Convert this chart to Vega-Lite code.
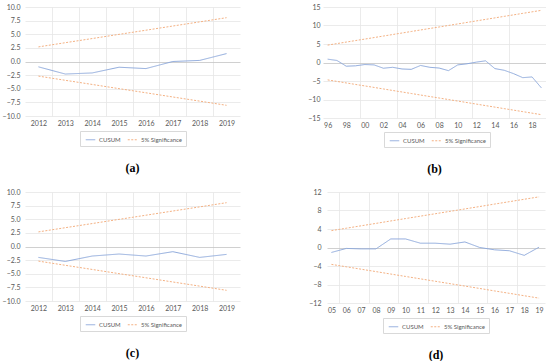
{
  "$schema": "https://vega.github.io/schema/vega-lite/v6.json",
  "background": "white",
  "padding": {"left": 2, "top": 3, "right": 0, "bottom": 0},
  "datasets": {
    "a": [
      {"t":2012,"s":"CUSUM","b":"c","v":-0.98},{"t":2013,"s":"CUSUM","b":"c","v":-2.3},{"t":2014,"s":"CUSUM","b":"c","v":-2.1},{"t":2015,"s":"CUSUM","b":"c","v":-1.05},{"t":2016,"s":"CUSUM","b":"c","v":-1.3},{"t":2017,"s":"CUSUM","b":"c","v":0.0},{"t":2018,"s":"CUSUM","b":"c","v":0.2},{"t":2019,"s":"CUSUM","b":"c","v":1.45},
      {"t":2012,"s":"5% Significance","b":"u","v":2.68},{"t":2013,"s":"5% Significance","b":"u","v":3.45},{"t":2014,"s":"5% Significance","b":"u","v":4.21},{"t":2015,"s":"5% Significance","b":"u","v":4.98},{"t":2016,"s":"5% Significance","b":"u","v":5.74},{"t":2017,"s":"5% Significance","b":"u","v":6.51},{"t":2018,"s":"5% Significance","b":"u","v":7.27},{"t":2019,"s":"5% Significance","b":"u","v":8.04},
      {"t":2012,"s":"5% Significance","b":"l","v":-2.68},{"t":2013,"s":"5% Significance","b":"l","v":-3.45},{"t":2014,"s":"5% Significance","b":"l","v":-4.21},{"t":2015,"s":"5% Significance","b":"l","v":-4.98},{"t":2016,"s":"5% Significance","b":"l","v":-5.74},{"t":2017,"s":"5% Significance","b":"l","v":-6.51},{"t":2018,"s":"5% Significance","b":"l","v":-7.27},{"t":2019,"s":"5% Significance","b":"l","v":-8.04}
    ],
    "c": [
      {"t":2012,"s":"CUSUM","b":"c","v":-2.0},{"t":2013,"s":"CUSUM","b":"c","v":-2.74},{"t":2014,"s":"CUSUM","b":"c","v":-1.75},{"t":2015,"s":"CUSUM","b":"c","v":-1.38},{"t":2016,"s":"CUSUM","b":"c","v":-1.75},{"t":2017,"s":"CUSUM","b":"c","v":-0.95},{"t":2018,"s":"CUSUM","b":"c","v":-2.0},{"t":2019,"s":"CUSUM","b":"c","v":-1.45},
      {"t":2012,"s":"5% Significance","b":"u","v":2.68},{"t":2013,"s":"5% Significance","b":"u","v":3.45},{"t":2014,"s":"5% Significance","b":"u","v":4.21},{"t":2015,"s":"5% Significance","b":"u","v":4.98},{"t":2016,"s":"5% Significance","b":"u","v":5.74},{"t":2017,"s":"5% Significance","b":"u","v":6.51},{"t":2018,"s":"5% Significance","b":"u","v":7.27},{"t":2019,"s":"5% Significance","b":"u","v":8.04},
      {"t":2012,"s":"5% Significance","b":"l","v":-2.68},{"t":2013,"s":"5% Significance","b":"l","v":-3.45},{"t":2014,"s":"5% Significance","b":"l","v":-4.21},{"t":2015,"s":"5% Significance","b":"l","v":-4.98},{"t":2016,"s":"5% Significance","b":"l","v":-5.74},{"t":2017,"s":"5% Significance","b":"l","v":-6.51},{"t":2018,"s":"5% Significance","b":"l","v":-7.27},{"t":2019,"s":"5% Significance","b":"l","v":-8.04}
    ],
    "b": [
      {"t":1996,"s":"CUSUM","b":"c","v":0.9},{"t":1997,"s":"CUSUM","b":"c","v":0.55},{"t":1998,"s":"CUSUM","b":"c","v":-1.0},{"t":1999,"s":"CUSUM","b":"c","v":-0.9},{"t":2000,"s":"CUSUM","b":"c","v":-0.55},{"t":2001,"s":"CUSUM","b":"c","v":-0.65},{"t":2002,"s":"CUSUM","b":"c","v":-1.55},{"t":2003,"s":"CUSUM","b":"c","v":-1.3},{"t":2004,"s":"CUSUM","b":"c","v":-1.75},{"t":2005,"s":"CUSUM","b":"c","v":-1.85},{"t":2006,"s":"CUSUM","b":"c","v":-0.8},{"t":2007,"s":"CUSUM","b":"c","v":-1.3},{"t":2008,"s":"CUSUM","b":"c","v":-1.5},{"t":2009,"s":"CUSUM","b":"c","v":-2.2},{"t":2010,"s":"CUSUM","b":"c","v":-0.65},{"t":2011,"s":"CUSUM","b":"c","v":-0.35},{"t":2012,"s":"CUSUM","b":"c","v":0.1},{"t":2013,"s":"CUSUM","b":"c","v":0.45},{"t":2014,"s":"CUSUM","b":"c","v":-1.65},{"t":2015,"s":"CUSUM","b":"c","v":-2.1},{"t":2016,"s":"CUSUM","b":"c","v":-3.0},{"t":2017,"s":"CUSUM","b":"c","v":-4.1},{"t":2018,"s":"CUSUM","b":"c","v":-3.9},{"t":2019,"s":"CUSUM","b":"c","v":-6.85},
      {"t":1996,"s":"5% Significance","b":"u","v":4.70},{"t":1997,"s":"5% Significance","b":"u","v":5.11},{"t":1998,"s":"5% Significance","b":"u","v":5.52},{"t":1999,"s":"5% Significance","b":"u","v":5.93},{"t":2000,"s":"5% Significance","b":"u","v":6.33},{"t":2001,"s":"5% Significance","b":"u","v":6.74},{"t":2002,"s":"5% Significance","b":"u","v":7.15},{"t":2003,"s":"5% Significance","b":"u","v":7.56},{"t":2004,"s":"5% Significance","b":"u","v":7.97},{"t":2005,"s":"5% Significance","b":"u","v":8.38},{"t":2006,"s":"5% Significance","b":"u","v":8.79},{"t":2007,"s":"5% Significance","b":"u","v":9.20},{"t":2008,"s":"5% Significance","b":"u","v":9.60},{"t":2009,"s":"5% Significance","b":"u","v":10.01},{"t":2010,"s":"5% Significance","b":"u","v":10.42},{"t":2011,"s":"5% Significance","b":"u","v":10.83},{"t":2012,"s":"5% Significance","b":"u","v":11.24},{"t":2013,"s":"5% Significance","b":"u","v":11.65},{"t":2014,"s":"5% Significance","b":"u","v":12.06},{"t":2015,"s":"5% Significance","b":"u","v":12.47},{"t":2016,"s":"5% Significance","b":"u","v":12.87},{"t":2017,"s":"5% Significance","b":"u","v":13.28},{"t":2018,"s":"5% Significance","b":"u","v":13.69},{"t":2019,"s":"5% Significance","b":"u","v":14.10},
      {"t":1996,"s":"5% Significance","b":"l","v":-4.70},{"t":1997,"s":"5% Significance","b":"l","v":-5.11},{"t":1998,"s":"5% Significance","b":"l","v":-5.52},{"t":1999,"s":"5% Significance","b":"l","v":-5.93},{"t":2000,"s":"5% Significance","b":"l","v":-6.33},{"t":2001,"s":"5% Significance","b":"l","v":-6.74},{"t":2002,"s":"5% Significance","b":"l","v":-7.15},{"t":2003,"s":"5% Significance","b":"l","v":-7.56},{"t":2004,"s":"5% Significance","b":"l","v":-7.97},{"t":2005,"s":"5% Significance","b":"l","v":-8.38},{"t":2006,"s":"5% Significance","b":"l","v":-8.79},{"t":2007,"s":"5% Significance","b":"l","v":-9.20},{"t":2008,"s":"5% Significance","b":"l","v":-9.60},{"t":2009,"s":"5% Significance","b":"l","v":-10.01},{"t":2010,"s":"5% Significance","b":"l","v":-10.42},{"t":2011,"s":"5% Significance","b":"l","v":-10.83},{"t":2012,"s":"5% Significance","b":"l","v":-11.24},{"t":2013,"s":"5% Significance","b":"l","v":-11.65},{"t":2014,"s":"5% Significance","b":"l","v":-12.06},{"t":2015,"s":"5% Significance","b":"l","v":-12.47},{"t":2016,"s":"5% Significance","b":"l","v":-12.87},{"t":2017,"s":"5% Significance","b":"l","v":-13.28},{"t":2018,"s":"5% Significance","b":"l","v":-13.69},{"t":2019,"s":"5% Significance","b":"l","v":-14.10}
    ],
    "d": [
      {"t":2005,"s":"CUSUM","b":"c","v":-1.07},{"t":2006,"s":"CUSUM","b":"c","v":-0.2},{"t":2007,"s":"CUSUM","b":"c","v":-0.3},{"t":2008,"s":"CUSUM","b":"c","v":-0.3},{"t":2009,"s":"CUSUM","b":"c","v":1.85},{"t":2010,"s":"CUSUM","b":"c","v":1.85},{"t":2011,"s":"CUSUM","b":"c","v":0.93},{"t":2012,"s":"CUSUM","b":"c","v":0.93},{"t":2013,"s":"CUSUM","b":"c","v":0.72},{"t":2014,"s":"CUSUM","b":"c","v":1.2},{"t":2015,"s":"CUSUM","b":"c","v":0.0},{"t":2016,"s":"CUSUM","b":"c","v":-0.5},{"t":2017,"s":"CUSUM","b":"c","v":-0.7},{"t":2018,"s":"CUSUM","b":"c","v":-1.7},{"t":2019,"s":"CUSUM","b":"c","v":0.07},
      {"t":2005,"s":"5% Significance","b":"u","v":3.65},{"t":2006,"s":"5% Significance","b":"u","v":4.17},{"t":2007,"s":"5% Significance","b":"u","v":4.69},{"t":2008,"s":"5% Significance","b":"u","v":5.21},{"t":2009,"s":"5% Significance","b":"u","v":5.74},{"t":2010,"s":"5% Significance","b":"u","v":6.26},{"t":2011,"s":"5% Significance","b":"u","v":6.78},{"t":2012,"s":"5% Significance","b":"u","v":7.30},{"t":2013,"s":"5% Significance","b":"u","v":7.82},{"t":2014,"s":"5% Significance","b":"u","v":8.34},{"t":2015,"s":"5% Significance","b":"u","v":8.86},{"t":2016,"s":"5% Significance","b":"u","v":9.39},{"t":2017,"s":"5% Significance","b":"u","v":9.91},{"t":2018,"s":"5% Significance","b":"u","v":10.43},{"t":2019,"s":"5% Significance","b":"u","v":10.95},
      {"t":2005,"s":"5% Significance","b":"l","v":-3.65},{"t":2006,"s":"5% Significance","b":"l","v":-4.17},{"t":2007,"s":"5% Significance","b":"l","v":-4.69},{"t":2008,"s":"5% Significance","b":"l","v":-5.21},{"t":2009,"s":"5% Significance","b":"l","v":-5.74},{"t":2010,"s":"5% Significance","b":"l","v":-6.26},{"t":2011,"s":"5% Significance","b":"l","v":-6.78},{"t":2012,"s":"5% Significance","b":"l","v":-7.30},{"t":2013,"s":"5% Significance","b":"l","v":-7.82},{"t":2014,"s":"5% Significance","b":"l","v":-8.34},{"t":2015,"s":"5% Significance","b":"l","v":-8.86},{"t":2016,"s":"5% Significance","b":"l","v":-9.39},{"t":2017,"s":"5% Significance","b":"l","v":-9.91},{"t":2018,"s":"5% Significance","b":"l","v":-10.43},{"t":2019,"s":"5% Significance","b":"l","v":-10.95}
    ]
  },
  "spacing": 13,
  "resolve": {"scale": {"color": "independent", "strokeDash": "independent"}, "legend": {"color": "independent", "strokeDash": "independent"}},
  "vconcat": [
    {
      "spacing": 63,
      "resolve": {"scale": {"color": "independent", "strokeDash": "independent"}, "legend": {"color": "independent", "strokeDash": "independent"}},
      "hconcat": [
        {
          "width": 215, "height": 109,
          "data": {"name": "a"},
          "title": {"text": "(a)"},
          "encoding": {
            "y": {"field": "v", "type": "quantitative", "scale": {"domain": [-10, 10], "nice": false, "zero": false},
              "axis": {"values": [-10, -7.5, -5, -2.5, 0, 2.5, 5, 7.5, 10], "format": ".1f", "title": null, "ticks": false, "domain": false, "labelPadding": 5, "minExtent": 20, "maxExtent": 20,
                "gridColor": {"condition": {"test": "datum.value === 0", "value": "#c4c4c4"}, "value": "#e6e6e6"}}},
            "color": {"field": "s", "type": "nominal", "scale": {"domain": ["CUSUM", "5% Significance"], "range": ["#8faadc", "#f4b183"]},
              "legend": {"title": null, "orient": "none", "legendX": 55, "legendY": 124, "direction": "horizontal"}},
            "strokeDash": {"field": "s", "type": "nominal", "scale": {"domain": ["CUSUM", "5% Significance"], "range": [[1, 0], [2, 1.5]]},
              "legend": {"title": null, "orient": "none", "legendX": 55, "legendY": 124, "direction": "horizontal"}},
            "detail": {"field": "b"}
          },
          "resolve": {"axis": {"x": "independent"}},
          "layer": [
            {"transform": [{"filter": "datum.b !== 'c'"}], "mark": {"type": "line", "strokeWidth": 1},
              "encoding": {"x": {"field": "t", "type": "quantitative", "scale": {"domain": [2011.5, 2019.5], "nice": false, "zero": false},
                "axis": {"orient": "top", "values": [2012.5, 2013.5, 2014.5, 2015.5, 2016.5, 2017.5, 2018.5], "labels": false, "ticks": false, "domain": false, "title": null, "grid": true}}}},
            {"transform": [{"filter": "datum.b === 'c'"}], "mark": {"type": "line", "strokeWidth": 1},
              "encoding": {"x": {"field": "t", "type": "quantitative", "scale": {"domain": [2011.5, 2019.5], "nice": false, "zero": false},
                "axis": {"orient": "bottom", "values": [2012, 2013, 2014, 2015, 2016, 2017, 2018, 2019], "format": "d", "grid": false, "ticks": false, "domain": false, "title": null, "labelPadding": 3, "labelOverlap": false, "labelFlush": false}}}}
          ]
        },
        {
          "width": 223, "height": 111,
          "data": {"name": "b"},
          "title": {"text": "(b)"},
          "encoding": {
            "y": {"field": "v", "type": "quantitative", "scale": {"domain": [-15, 15], "nice": false, "zero": false},
              "axis": {"values": [-15, -10, -5, 0, 5, 10, 15], "title": null, "ticks": false, "domain": false, "labelPadding": 3, "minExtent": 20, "maxExtent": 20,
                "gridColor": {"condition": {"test": "datum.value === 0", "value": "#c4c4c4"}, "value": "#e6e6e6"}}},
            "color": {"field": "s", "type": "nominal", "scale": {"domain": ["CUSUM", "5% Significance"], "range": ["#8faadc", "#f4b183"]},
              "legend": {"title": null, "orient": "none", "legendX": 61, "legendY": 125, "direction": "horizontal"}},
            "strokeDash": {"field": "s", "type": "nominal", "scale": {"domain": ["CUSUM", "5% Significance"], "range": [[1, 0], [2, 1.5]]},
              "legend": {"title": null, "orient": "none", "legendX": 61, "legendY": 125, "direction": "horizontal"}},
            "detail": {"field": "b"}
          },
          "resolve": {"axis": {"x": "independent"}},
          "layer": [
            {"transform": [{"filter": "datum.b !== 'c'"}], "mark": {"type": "line", "strokeWidth": 1},
              "encoding": {"x": {"field": "t", "type": "quantitative", "scale": {"domain": [1995.5, 2019.5], "nice": false, "zero": false},
                "axis": {"orient": "top", "values": [1999.5, 2003.5, 2007.5, 2011.5, 2015.5], "labels": false, "ticks": false, "domain": false, "title": null, "grid": true}}}},
            {"transform": [{"filter": "datum.b === 'c'"}], "mark": {"type": "line", "strokeWidth": 1},
              "encoding": {"x": {"field": "t", "type": "quantitative", "scale": {"domain": [1995.5, 2019.5], "nice": false, "zero": false},
                "axis": {"orient": "bottom", "values": [1996, 1998, 2000, 2002, 2004, 2006, 2008, 2010, 2012, 2014, 2016, 2018], "labelExpr": "slice(toString(datum.value), 2)", "grid": false, "ticks": false, "domain": false, "title": null, "labelPadding": 3, "labelOverlap": false, "labelFlush": false}}}}
          ]
        }
      ]
    },
    {
      "spacing": 63,
      "resolve": {"scale": {"color": "independent", "strokeDash": "independent"}, "legend": {"color": "independent", "strokeDash": "independent"}},
      "hconcat": [
        {
          "width": 215, "height": 109,
          "data": {"name": "c"},
          "title": {"text": "(c)"},
          "encoding": {
            "y": {"field": "v", "type": "quantitative", "scale": {"domain": [-10, 10], "nice": false, "zero": false},
              "axis": {"values": [-10, -7.5, -5, -2.5, 0, 2.5, 5, 7.5, 10], "format": ".1f", "title": null, "ticks": false, "domain": false, "labelPadding": 5, "minExtent": 20, "maxExtent": 20,
                "gridColor": {"condition": {"test": "datum.value === 0", "value": "#c4c4c4"}, "value": "#e6e6e6"}}},
            "color": {"field": "s", "type": "nominal", "scale": {"domain": ["CUSUM", "5% Significance"], "range": ["#8faadc", "#f4b183"]},
              "legend": {"title": null, "orient": "none", "legendX": 55, "legendY": 124, "direction": "horizontal"}},
            "strokeDash": {"field": "s", "type": "nominal", "scale": {"domain": ["CUSUM", "5% Significance"], "range": [[1, 0], [2, 1.5]]},
              "legend": {"title": null, "orient": "none", "legendX": 55, "legendY": 124, "direction": "horizontal"}},
            "detail": {"field": "b"}
          },
          "resolve": {"axis": {"x": "independent"}},
          "layer": [
            {"transform": [{"filter": "datum.b !== 'c'"}], "mark": {"type": "line", "strokeWidth": 1},
              "encoding": {"x": {"field": "t", "type": "quantitative", "scale": {"domain": [2011.5, 2019.5], "nice": false, "zero": false},
                "axis": {"orient": "top", "values": [2012.5, 2013.5, 2014.5, 2015.5, 2016.5, 2017.5, 2018.5], "labels": false, "ticks": false, "domain": false, "title": null, "grid": true}}}},
            {"transform": [{"filter": "datum.b === 'c'"}], "mark": {"type": "line", "strokeWidth": 1},
              "encoding": {"x": {"field": "t", "type": "quantitative", "scale": {"domain": [2011.5, 2019.5], "nice": false, "zero": false},
                "axis": {"orient": "bottom", "values": [2012, 2013, 2014, 2015, 2016, 2017, 2018, 2019], "format": "d", "grid": false, "ticks": false, "domain": false, "title": null, "labelPadding": 3, "labelOverlap": false, "labelFlush": false}}}}
          ]
        },
        {
          "width": 218, "height": 111,
          "data": {"name": "d"},
          "title": {"text": "(d)"},
          "encoding": {
            "y": {"field": "v", "type": "quantitative", "scale": {"domain": [-12, 12], "nice": false, "zero": false},
              "axis": {"values": [-12, -8, -4, 0, 4, 8, 12], "title": null, "ticks": false, "domain": false, "labelPadding": 6, "minExtent": 24, "maxExtent": 24,
                "gridColor": {"condition": {"test": "datum.value === 0", "value": "#c4c4c4"}, "value": "#e6e6e6"}}},
            "color": {"field": "s", "type": "nominal", "scale": {"domain": ["CUSUM", "5% Significance"], "range": ["#8faadc", "#f4b183"]},
              "legend": {"title": null, "orient": "none", "legendX": 56, "legendY": 126, "direction": "horizontal"}},
            "strokeDash": {"field": "s", "type": "nominal", "scale": {"domain": ["CUSUM", "5% Significance"], "range": [[1, 0], [2, 1.5]]},
              "legend": {"title": null, "orient": "none", "legendX": 56, "legendY": 126, "direction": "horizontal"}},
            "detail": {"field": "b"}
          },
          "resolve": {"axis": {"x": "independent"}},
          "layer": [
            {"transform": [{"filter": "datum.b !== 'c'"}], "mark": {"type": "line", "strokeWidth": 1},
              "encoding": {"x": {"field": "t", "type": "quantitative", "scale": {"domain": [2004.7, 2019.4], "nice": false, "zero": false},
                "axis": {"orient": "top", "values": [2005.5, 2007.5, 2009.5, 2011.5, 2013.5, 2015.5, 2017.5], "labels": false, "ticks": false, "domain": false, "title": null, "grid": true}}}},
            {"transform": [{"filter": "datum.b === 'c'"}], "mark": {"type": "line", "strokeWidth": 1},
              "encoding": {"x": {"field": "t", "type": "quantitative", "scale": {"domain": [2004.7, 2019.4], "nice": false, "zero": false},
                "axis": {"orient": "bottom", "values": [2005, 2006, 2007, 2008, 2009, 2010, 2011, 2012, 2013, 2014, 2015, 2016, 2017, 2018, 2019], "labelExpr": "slice(toString(datum.value), 2)", "grid": false, "ticks": false, "domain": false, "title": null, "labelPadding": 3, "labelOverlap": false, "labelFlush": false}}}}
          ]
        }
      ]
    }
  ],
  "config": {
    "view": {"stroke": null},
    "axis": {"labelFont": "Lato", "labelFontSize": 7, "labelColor": "#595959", "gridColor": "#e6e6e6", "gridWidth": 0.8},
    "legend": {"symbolType": "stroke", "symbolSize": 90, "symbolStrokeWidth": 1, "labelFont": "Lato", "labelFontSize": 6, "labelColor": "#595959", "strokeColor": "#d9d9d9", "fillColor": "white", "padding": 3, "columnPadding": 4, "symbolOffset": 2, "labelOffset": 3},
    "title": {"orient": "bottom", "anchor": "middle", "font": "Liberation Serif", "fontSize": 12, "fontWeight": "bold", "color": "#000000", "offset": 16}
  }
}
